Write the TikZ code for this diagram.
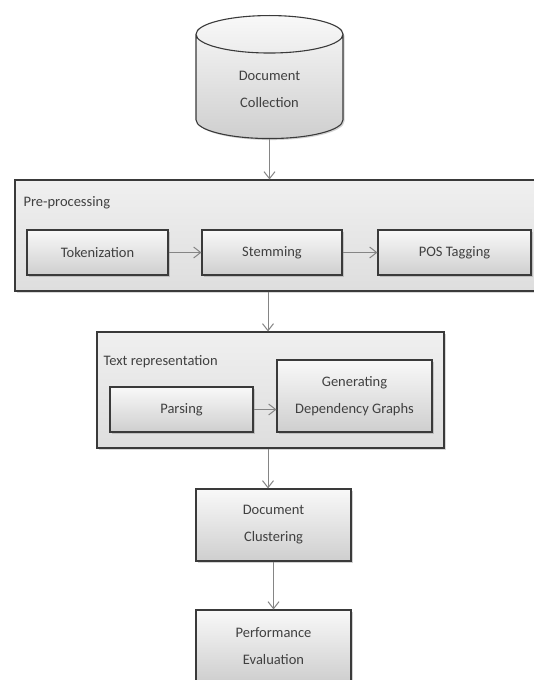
\documentclass[tikz,border=0pt]{standalone}
\usepackage{fontspec}
\setmainfont{Carlito}
\usepackage{tikz}
\usetikzlibrary{positioning,calc}
\usetikzlibrary{arrows.meta}
\usetikzlibrary{shapes.geometric}
\usetikzlibrary{shadows}

\definecolor{linegray}{HTML}{3A3A3A}
\definecolor{arrowgray}{HTML}{858585}
\definecolor{textgray}{HTML}{404040}
\newcommand{\diagfont}{\fontsize{14.5pt}{27pt}\selectfont}

\tikzset{
  box/.style={draw=linegray, line width=1.1pt, top color=gray!5, bottom color=gray!38, align=center,
    drop shadow={shadow xshift=1.5pt, shadow yshift=-1.5pt, opacity=0.35}},
  stage/.style={draw=linegray, line width=1.1pt, top color=gray!12, bottom color=gray!26,
    drop shadow={shadow xshift=1.5pt, shadow yshift=-1.5pt, opacity=0.3}},
  arr/.style={-{Straight Barb[length=7pt,width=11pt]}, draw=arrowgray, line width=1pt},
}

\begin{document}
\begin{tikzpicture}[x=1pt, y=-1pt, every node/.style={font=\diagfont, text=textgray}]
  \useasboundingbox (0,0) rectangle (534,680);
  \fill[white] (0,0) rectangle (534,680);
  \clip (0,0) rectangle (534,680);

  % data source
  \node[box, cylinder, shape border rotate=90, aspect=0.55, minimum width=147pt, minimum height=123pt, anchor=north] at (269.5, 15) (coll) {Document\\Collection};

  % pre-processing stage
  \node[stage, minimum width=525pt, minimum height=111pt] at (277.5, 235.5) (pre) {};
  \node[anchor=west] at (20, 203) (pre_lbl) {Pre-processing};
  \node[box, minimum width=141pt, minimum height=45pt] at (97.5, 252.5) (tok) {Tokenization};
  \node[box, minimum width=140pt, minimum height=45pt] at (272, 252.5) (stem) {Stemming};
  \node[box, minimum width=153pt, minimum height=45pt] at (454.5, 252.5) (pos) {POS Tagging};

  % text representation stage
  \node[stage, minimum width=347pt, minimum height=116pt] at (270.5, 390) (txt) {};
  \node[anchor=west] at (100, 362) (txt_lbl) {Text representation};
  \node[box, minimum width=143pt, minimum height=45pt] at (181.5, 409.5) (pars) {Parsing};
  \node[box, minimum width=155pt, minimum height=72pt] at (354.5, 396) (gen) {Generating\\Dependency Graphs};

  \node[box, minimum width=155pt, minimum height=72pt] at (273.5, 525) (clus) {Document\\Clustering};
  \node[box, minimum width=155pt, minimum height=72pt] at (273.5, 646) (perf) {Performance\\Evaluation};

  \draw[arr] (coll.south) -- (coll.south |- pre.north);
  \draw[arr] (tok) -- (stem);
  \draw[arr] (stem) -- (pos);
  \draw[arr] (pre.south -| 268,0) -- (txt.north -| 268,0);
  \draw[arr] (pars) -- (gen.west |- pars);
  \draw[arr] (txt.south -| 268,0) -- (clus.north -| 268,0);
  \draw[arr] (clus) -- (perf);

\end{tikzpicture}
\end{document}
